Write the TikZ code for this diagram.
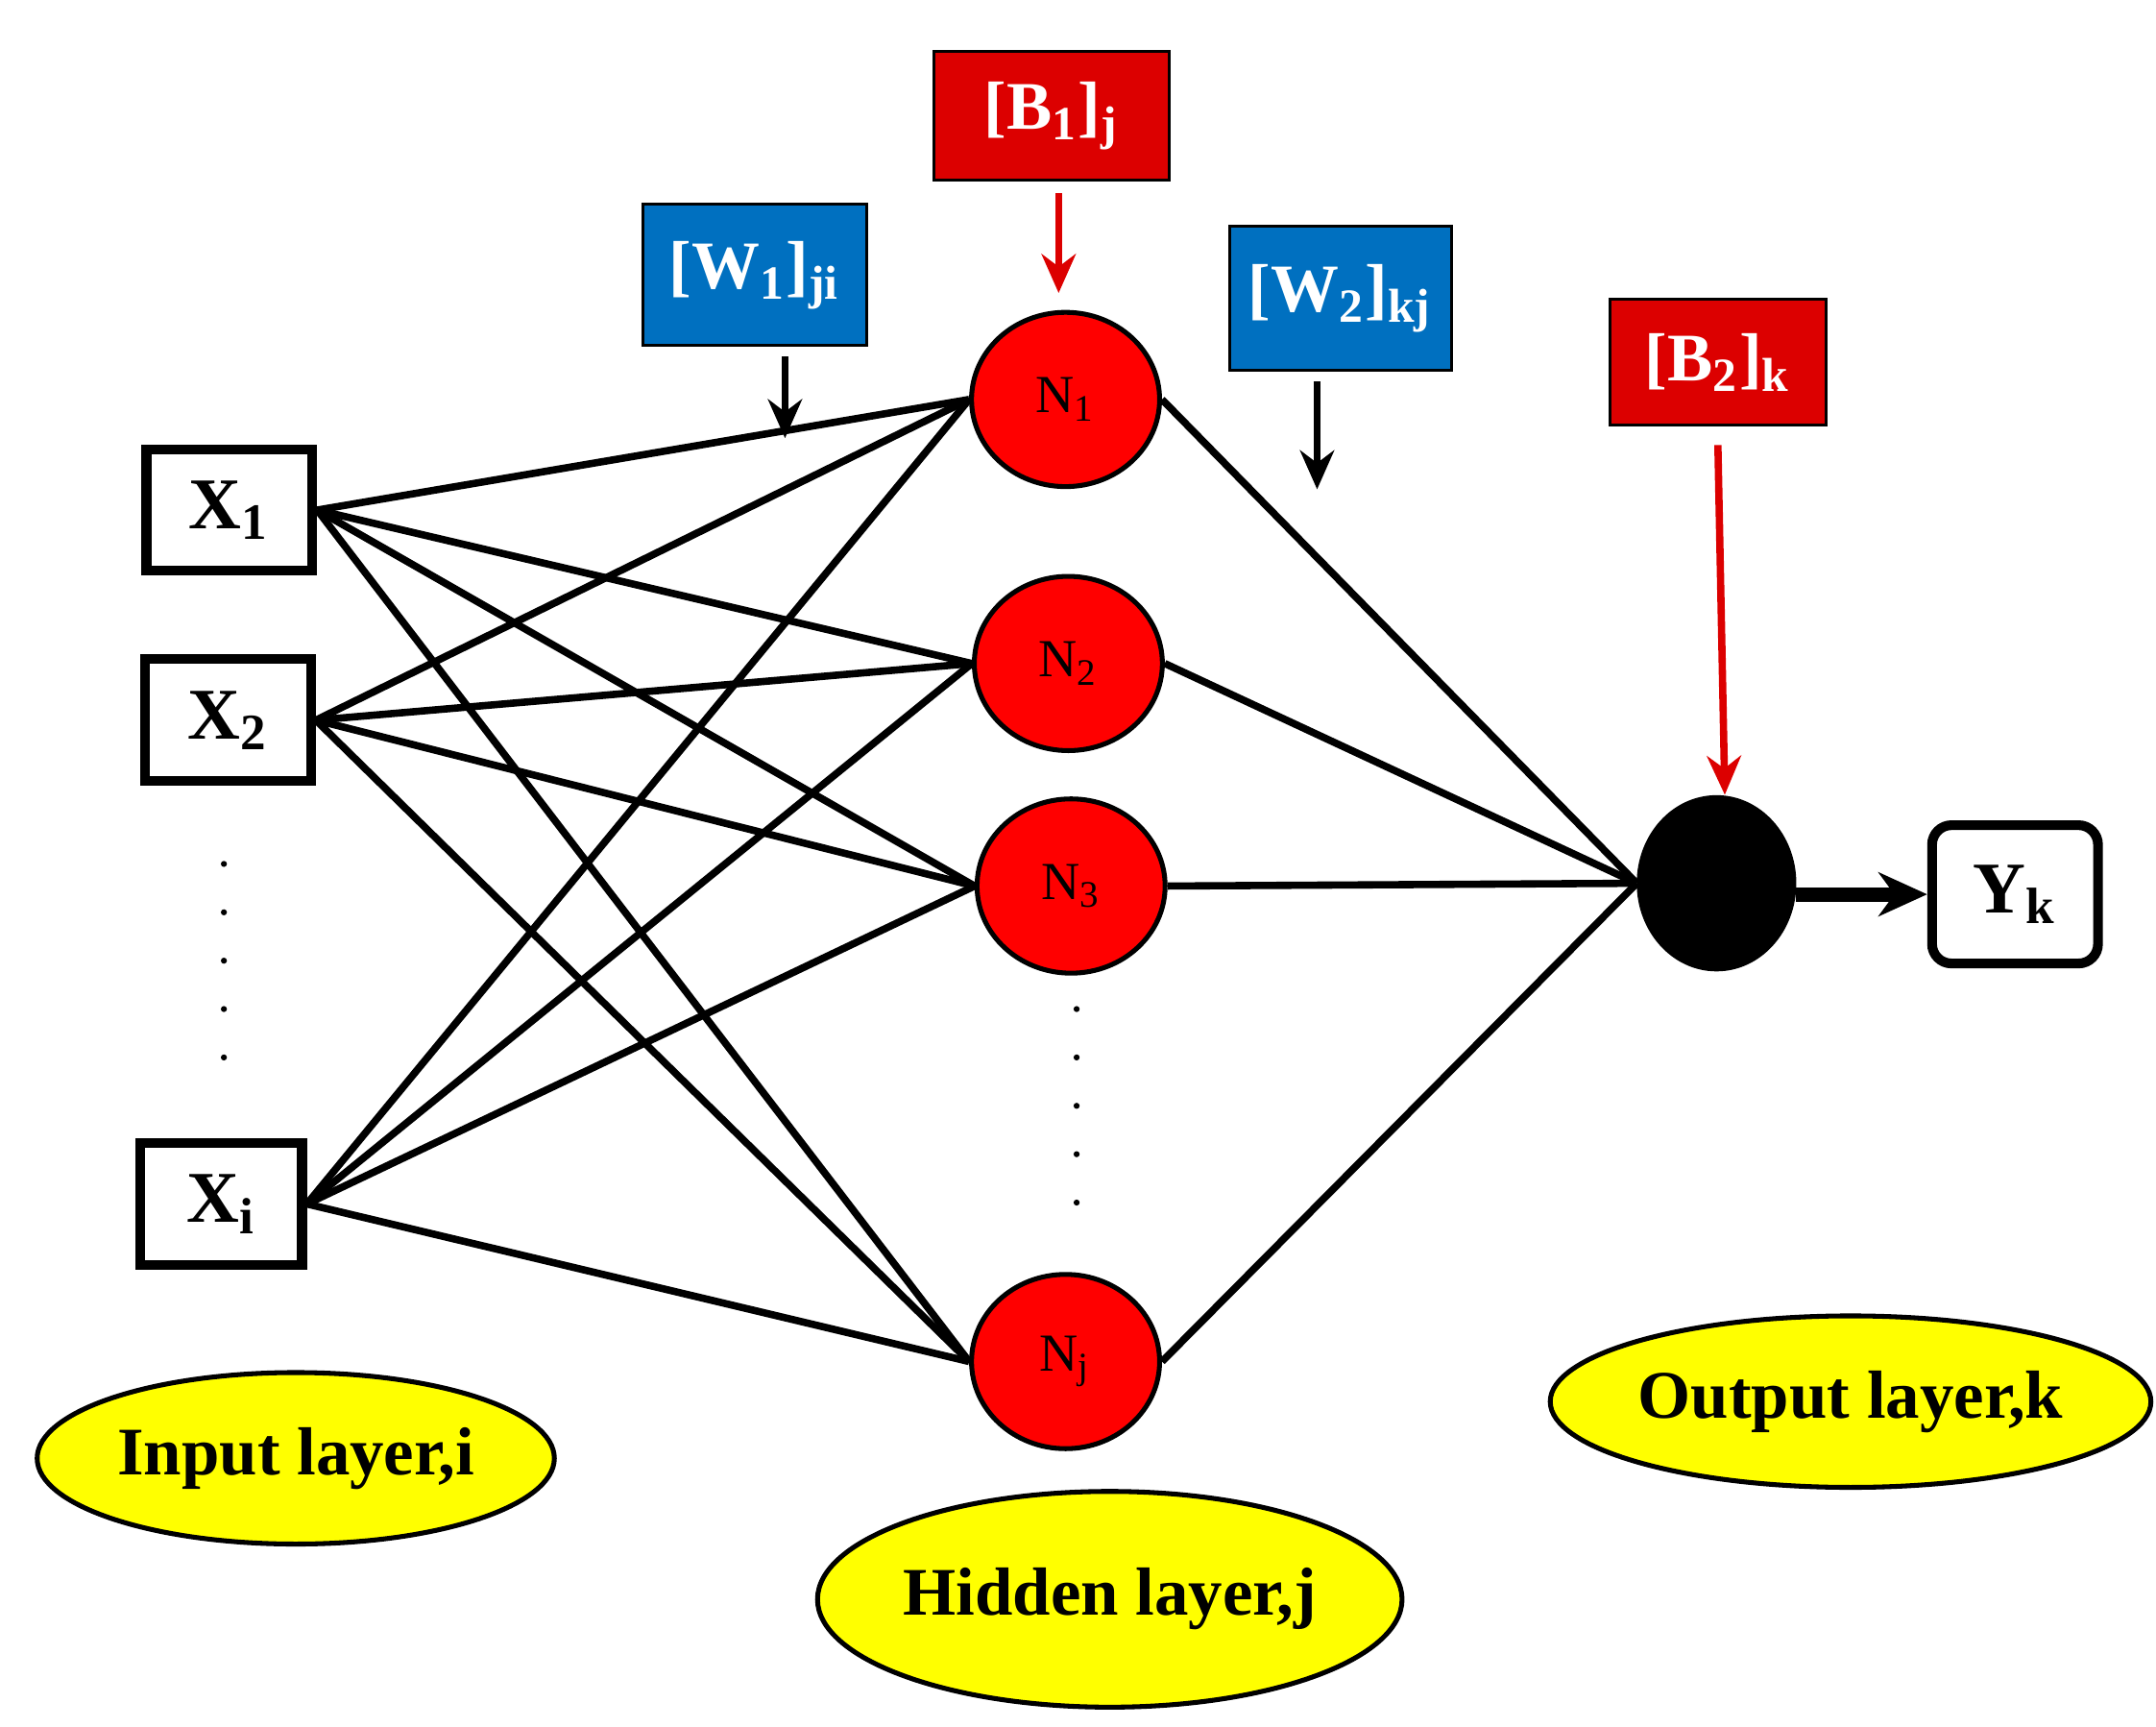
\documentclass[tikz,border=0pt]{standalone}
\usepackage{fontspec}
\setmainfont{Liberation Serif}
\usetikzlibrary{shapes.geometric,arrows.meta}
\definecolor{rd}{RGB}{220,0,0}
\definecolor{bl}{RGB}{0,112,192}
\definecolor{yl}{RGB}{255,255,0}
\newcommand{\sbs}[1]{\textsubscript{#1}}
\begin{document}
\begin{tikzpicture}[x=0.01cm,y=-0.01cm,
 inp/.style={draw,line width=2pt,minimum width=1.2cm,minimum height=0.88cm,font=\bfseries\fontsize{15}{15}\selectfont,inner sep=0pt},
 neu/.style={ellipse,draw,fill=red,line width=1pt,minimum width=1.36cm,minimum height=1.26cm,font=\fontsize{11}{11}\selectfont,inner sep=0pt},
 prm/.style={draw,line width=0.6pt,text=white,font=\bfseries\fontsize{14}{14}\selectfont,minimum width=1.6cm,minimum height=1cm,inner sep=0pt},
 lay/.style={ellipse,draw,fill=yl,line width=1pt,inner sep=0pt,font=\bfseries\fontsize{14}{14}\selectfont},
 con/.style={line width=1.5pt},
 arr/.style={line width=1.5pt,-{Stealth[length=8pt,width=7pt]}}]
\useasboundingbox (0,0) rectangle (1560,1249);
\node[inp] (x1) at (166,369) {X\sbs{1}};
\node[inp] (x2) at (165,521) {X\sbs{2}};
\node[inp,minimum width=1.17cm] (xi) at (160,871) {X\sbs{i}};
\foreach \y in {625,660,...,780} \fill (162,\y) circle (2.2);
\node[neu] (n1) at (771,289) {N\sbs{1}};
\node[neu] (n2) at (773,480) {N\sbs{2}};
\node[neu] (n3) at (775,641) {N\sbs{3}};
\node[neu] (nj) at (771,985) {N\sbs{j}};
\foreach \y in {730,765,...,885} \fill (779,\y) circle (2.2);
\node[ellipse,fill=black,draw,minimum width=1.14cm,minimum height=1.26cm] (o) at (1242,639) {};
\node[inp,rounded corners=4pt,minimum height=1cm] (yk) at (1458,647) {Y\sbs{k}};
\foreach \a in {x1,x2,xi} \foreach \b in {n1,n2,n3,nj} \draw[con] (\a.east) -- (\b.west);
\foreach \b in {n1,n2,n3,nj} \draw[con] (\b.east) -- (o.west);
\draw[line width=3pt,-{Stealth[length=10pt,width=9pt]}] (o.east |- yk.west) -- (yk.west);
\node[prm,fill=rd,minimum width=1.7cm,minimum height=0.93cm] (b1) at (761,84) {[B\sbs{1}]\sbs{j}};
\node[prm,fill=bl,minimum width=1.62cm,minimum height=1.02cm] (w1) at (546,199) {[W\sbs{1}]\sbs{ji}};
\node[prm,fill=bl,minimum width=1.61cm,minimum height=1.04cm] (w2) at (970,216) {[W\sbs{2}]\sbs{kj}};
\node[prm,fill=rd,minimum width=1.56cm,minimum height=0.91cm] (b2) at (1243,262) {[B\sbs{2}]\sbs{k}};
\coordinate (b1s) at (766,140); \coordinate (b1e) at (766,212);
\coordinate (w1s) at (568,258); \coordinate (w1e) at (568,317);
\coordinate (w2s) at (953,276); \coordinate (w2e) at (953,354);
\coordinate (b2s) at (1243,322); \coordinate (b2e) at (1248,575);
\draw[arr,rd] (b1s) -- (b1e);
\draw[arr] (w1s) -- (w1e);
\draw[arr] (w2s) -- (w2e);
\draw[arr,rd] (b2s) -- (b2e);
\node[lay,minimum width=3.74cm,minimum height=1.24cm] (li) at (214,1055) {Input layer,i};
\node[lay,minimum width=4.18cm,minimum height=1.56cm] (lh) at (803,1157) {Hidden layer,j};
\node[lay,minimum width=4.22cm,minimum height=1.24cm] (lo) at (1339,1014) {Output layer,k};
\end{tikzpicture}
\end{document}
